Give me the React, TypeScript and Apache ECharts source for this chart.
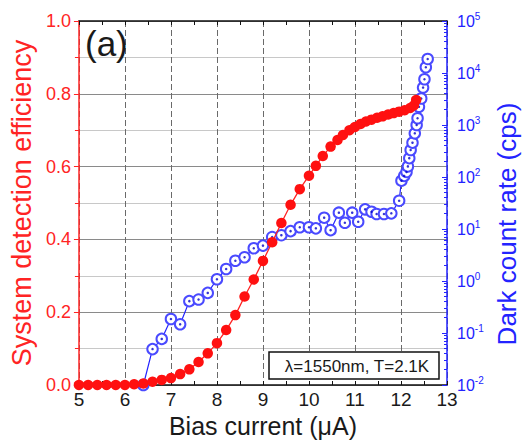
import React, { useEffect, useRef } from "react";
import * as echarts from "echarts";

// System detection efficiency (left axis)
const redX = [
  5.0, 5.2, 5.4, 5.6, 5.8, 6.0, 6.2, 6.4, 6.6, 6.8, 7.0, 7.2, 7.4, 7.6, 7.8, 8.0, 8.2, 8.4, 8.6, 8.8,
  9.0, 9.2, 9.4, 9.6, 9.8, 10.0, 10.15, 10.3, 10.47, 10.62, 10.74, 10.88, 11.0, 11.12, 11.24, 11.36,
  11.48, 11.6, 11.72, 11.84, 11.96, 12.08, 12.2, 12.28, 12.33,
];
const redY = [
  0, 0, 0, 0, 0, 0, 0.002, 0.004, 0.009, 0.014, 0.019, 0.03, 0.043, 0.063, 0.087, 0.115, 0.151, 0.192,
  0.243, 0.29, 0.341, 0.392, 0.445, 0.495, 0.538, 0.575, 0.602, 0.629, 0.655, 0.673, 0.687, 0.7, 0.709,
  0.717, 0.724, 0.729, 0.734, 0.738, 0.743, 0.747, 0.751, 0.755, 0.761, 0.768, 0.783,
];

// Dark count rate (right axis, cps)
const blueX = [
  6.4, 6.6, 6.8, 7.0, 7.2, 7.4, 7.6, 7.8, 8.0, 8.2, 8.4, 8.6, 8.8, 9.0, 9.2, 9.4, 9.6, 9.8, 10.0, 10.15,
  10.33, 10.47, 10.65, 10.78, 10.94, 11.07, 11.22, 11.36, 11.47, 11.63, 11.79, 11.96, 12.01, 12.07,
  12.12, 12.15, 12.18, 12.21, 12.25, 12.3, 12.34, 12.36, 12.39, 12.44, 12.48, 12.51, 12.54, 12.58,
];
const blueY = [
  0.01, 0.049, 0.077, 0.186, 0.147, 0.41, 0.44, 0.59, 1.08, 1.7, 2.45, 2.86, 4.27, 4.79, 7.0, 7.6, 9.1,
  10.8, 10.8, 10.3, 16.5, 9.5, 20.6, 13.2, 20.6, 13.8, 23.9, 21.5, 19.4, 19.4, 20.0, 35.0, 85, 105,
  125, 160, 230, 331, 457, 692, 1000, 1349, 2239, 3236, 5248, 7586, 12882, 18621,
];

const minorExponents = [-2, -1, 0, 1, 2, 3, 4];
const minorMantissas = [2, 3, 4, 5, 6, 7, 8, 9];

const FONT = "'Liberation Sans', Arial, Helvetica, sans-serif";
const RED = "#ff2424";
const BLUE = "#2323ff";
const INK = "#1a1a1a";

export default function App() {
  const ref = useRef<HTMLDivElement>(null);

  useEffect(() => {
    const chart = echarts.init(ref.current as HTMLDivElement, null, { renderer: "svg" });
    const redData = redX.map((x, i) => [x, redY[i]]);
    const blueData = blueX.map((x, i) => [x, blueY[i]]);
    const minorLog: number[] = [];
    minorExponents.forEach((e) =>
      minorMantissas.forEach((m) => minorLog.push(Math.log10(m) + e))
    );

    chart.setOption({
      animation: false,
      textStyle: { fontFamily: FONT },
      grid: { left: 78, right: 76, top: 21, bottom: 59, containLabel: false },
      xAxis: [
        {
          type: "value",
          position: "bottom",
          min: 5,
          max: 13,
          interval: 1,
          name: "Bias current (μA)",
          nameLocation: "middle",
          nameGap: 28,
          nameTextStyle: { fontSize: 25, color: INK, fontFamily: FONT },
          axisLine: { show: true, onZero: false, lineStyle: { color: "#111", width: 1.5 } },
          axisTick: { show: true, inside: true, length: 4, lineStyle: { color: "#111" } },
          minorTick: { show: true, splitNumber: 2, length: 4, lineStyle: { color: "#111" } },
          axisLabel: { fontSize: 19, color: INK, margin: 5, fontFamily: FONT },
          splitLine: { show: true, lineStyle: { color: "#6a6a6a", type: [6, 3], width: 1 } },
        },
        {
          type: "value",
          position: "top",
          min: 5,
          max: 13,
          interval: 1,
          axisLine: { show: true, onZero: false, lineStyle: { color: "#111", width: 1.5 } },
          axisTick: { show: true, inside: true, length: 4, lineStyle: { color: "#111" } },
          minorTick: { show: true, splitNumber: 2, length: 4, lineStyle: { color: "#111" } },
          axisLabel: { show: false },
          splitLine: { show: false },
        },
      ],
      yAxis: [
        {
          type: "value",
          position: "left",
          min: 0,
          max: 1,
          interval: 0.2,
          name: "System detection efficiency",
          nameLocation: "middle",
          nameGap: 41,
          nameTextStyle: { fontSize: 27, color: RED, fontFamily: FONT },
          axisLine: { show: true, onZero: false, lineStyle: { color: RED, width: 1.5 } },
          axisTick: { show: true, inside: false, length: 5, lineStyle: { color: RED } },
          minorTick: { show: true, splitNumber: 2, length: 4, lineStyle: { color: RED } },
          axisLabel: {
            fontSize: 18,
            color: RED,
            margin: 8,
            fontFamily: FONT,
            formatter: (v: number) => v.toFixed(1),
          },
          splitLine: { show: true, lineStyle: { color: "#8a8a8a", width: 1 } },
          minorSplitLine: { show: true, lineStyle: { color: "#c8c8c8", width: 1 } },
        },
        {
          type: "log",
          logBase: 10,
          position: "right",
          min: 0.01,
          max: 100000,
          splitNumber: 7,
          axisLine: { show: true, onZero: false, lineStyle: { color: BLUE, width: 1.5 } },
          axisTick: { show: true, inside: true, length: 5, lineStyle: { color: BLUE } },
          axisLabel: {
            color: BLUE,
            margin: 10,
            fontFamily: FONT,
            formatter: (v: number) => `{b|10}{s|${Math.round(Math.log10(v))}}`,
            rich: {
              b: { fontSize: 16, color: BLUE, fontFamily: FONT, lineHeight: 20 },
              s: { fontSize: 10, color: BLUE, fontFamily: FONT, lineHeight: 12, verticalAlign: "top" },
            },
          },
          splitLine: { show: false },
        },
        {
          type: "value",
          position: "right",
          min: -2,
          max: 5,
          interval: 1,
          axisLine: { show: false },
          axisTick: {
            show: true,
            inside: true,
            length: 3,
            customValues: minorLog,
            lineStyle: { color: BLUE },
          },
          axisLabel: { show: false },
          splitLine: { show: false },
        },
      ],
      graphic: [
        {
          type: "text",
          left: 85,
          top: 26,
          z: 10,
          style: { text: "(a)", fontSize: 35, fill: INK, fontFamily: FONT },
        },
        {
          type: "text",
          x: 507,
          y: 224,
          rotation: Math.PI / 2,
          z: 10,
          style: {
            text: "Dark count rate (cps)",
            fontSize: 26,
            fill: BLUE,
            fontFamily: FONT,
            align: "center",
            verticalAlign: "middle",
          },
        },
        {
          type: "rect",
          z: 10,
          shape: { x: 269, y: 352, width: 170, height: 27 },
          style: { fill: "#fff", stroke: "#111", lineWidth: 1.5 },
        },
        {
          type: "text",
          z: 11,
          x: 357,
          y: 366,
          style: {
            text: "λ=1550nm, T=2.1K",
            fontSize: 17,
            fill: INK,
            fontFamily: FONT,
            align: "center",
            verticalAlign: "middle",
          },
        },
      ],
      series: [
        {
          type: "line",
          xAxisIndex: 0,
          yAxisIndex: 1,
          data: blueData,
          symbol: "emptyCircle",
          symbolSize: 10.5,
          lineStyle: { color: BLUE, width: 1.2 },
          itemStyle: { color: "#4a4aff", borderWidth: 1.6 },
          z: 3,
        },
        {
          type: "scatter",
          xAxisIndex: 0,
          yAxisIndex: 1,
          data: blueData,
          symbol: "circle",
          symbolSize: 2.5,
          itemStyle: { color: "#0000c8" },
          silent: true,
          z: 4,
        },
        {
          type: "line",
          xAxisIndex: 0,
          yAxisIndex: 0,
          data: redData,
          symbol: "circle",
          symbolSize: 10.5,
          lineStyle: { color: RED, width: 1.3 },
          itemStyle: { color: "#ff1010" },
          z: 5,
        },
      ],
    });

    return () => chart.dispose();
  }, []);

  return (
    <div
      ref={ref}
      style={{ position: "fixed", left: 0, top: 0, width: 523, height: 444, background: "#fff" }}
    />
  );
}
